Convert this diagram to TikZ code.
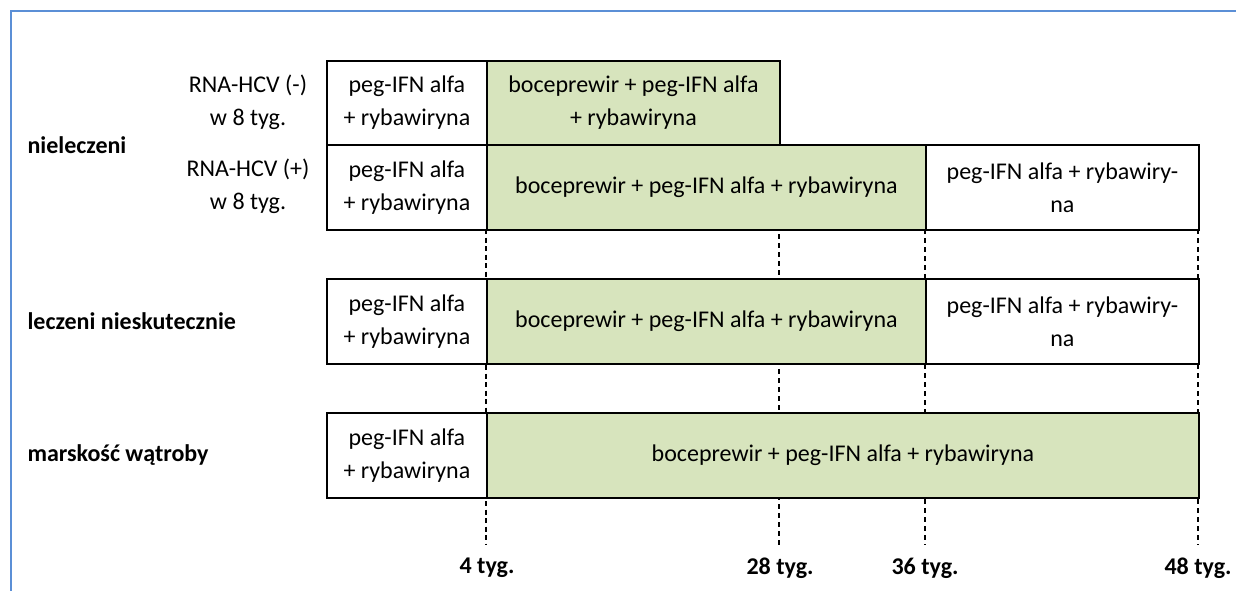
\documentclass[tikz,border=0pt]{standalone}
\usepackage{fontspec}
\setmainfont{Carlito}
\definecolor{framebl}{HTML}{5B8FD6}
\definecolor{boxgreen}{HTML}{D7E4BD}
\begin{document}
\begin{tikzpicture}[x=1pt,y=-1pt,
  every node/.style={font=\fontsize{24}{33}\selectfont},
  bx/.style={draw=black,line width=1.8pt,anchor=north west,inner sep=0pt,align=center,fill=white},
  gbx/.style={bx,fill=boxgreen},
  vdash/.style={line width=2.2pt,dash pattern=on 5pt off 4pt},
  lbl/.style={anchor=west,font=\fontsize{24}{33}\selectfont\bfseries},
  tick/.style={font=\fontsize{24}{33}\selectfont\bfseries},
  sub/.style={align=center}]
\useasboundingbox (0,0) rectangle (1236,590);
\fill[white] (0,0) rectangle (1236,590);
\draw[framebl,line width=2pt] (11,592) -- (11,11) -- (1238,11);

% dashed guide lines
\coordinate (t4) at (486,229);  \coordinate (b4) at (486,545);
\coordinate (t28) at (779,144); \coordinate (b28) at (779,545);
\coordinate (t36) at (925,229); \coordinate (b36) at (925,545);
\coordinate (t48) at (1198,229);\coordinate (b48) at (1198,545);
\draw[vdash,line width=2.6pt,dash pattern=on 5pt off 3.5pt] (t4) -- (b4);
\draw[vdash] (t28) -- (b28);
\draw[vdash] (t36) -- (b36);
\draw[vdash] (t48) -- (b48);

% row 1
\node[bx,minimum width=160pt,minimum height=84pt] (r1a) at (326,60) {peg-IFN alfa\\+ rybawiryna};
\node[gbx,minimum width=293pt,minimum height=84pt] (r1b) at (486,60) {boceprewir + peg-IFN alfa\\+ rybawiryna};
% row 2
\node[bx,minimum width=160pt,minimum height=85pt] (r2a) at (326,144) {peg-IFN alfa\\+ rybawiryna};
\node[gbx,minimum width=439pt,minimum height=85pt] (r2b) at (486,144) {boceprewir + peg-IFN alfa + rybawiryna};
\node[bx,minimum width=273pt,minimum height=85pt] (r2c) at (925,144) {peg-IFN alfa + rybawiry-\\na};
% row 3
\node[bx,minimum width=160pt,minimum height=85pt] (r3a) at (326,278) {peg-IFN alfa\\+ rybawiryna};
\node[gbx,minimum width=439pt,minimum height=85pt] (r3b) at (486,278) {boceprewir + peg-IFN alfa + rybawiryna};
\node[bx,minimum width=273pt,minimum height=85pt] (r3c) at (925,278) {peg-IFN alfa + rybawiry-\\na};
% row 4
\node[bx,minimum width=160pt,minimum height=85pt] (r4a) at (326,412) {peg-IFN alfa\\+ rybawiryna};
\node[gbx,minimum width=712pt,minimum height=85pt] (r4b) at (486,412) {boceprewir + peg-IFN alfa + rybawiryna};

% left labels
\node[lbl] (g1) at (24,145) {nieleczeni};
\node[lbl] (g2) at (24,321) {leczeni nieskutecznie};
\node[lbl] (g3) at (24,455) {marskość wątroby};
\node[sub] (s1) at (248,102) {RNA-HCV (-)\\w 8 tyg.};
\node[sub] (s2) at (248,186) {RNA-HCV (+)\\w 8 tyg.};

% week labels
\node[tick] (w4) at (487,568) {4 tyg.};
\node[tick] (w28) at (780,568) {28 tyg.};
\node[tick] (w36) at (925,568) {36 tyg.};
\node[tick] (w48) at (1198,568) {48 tyg.};
\end{tikzpicture}
\end{document}
